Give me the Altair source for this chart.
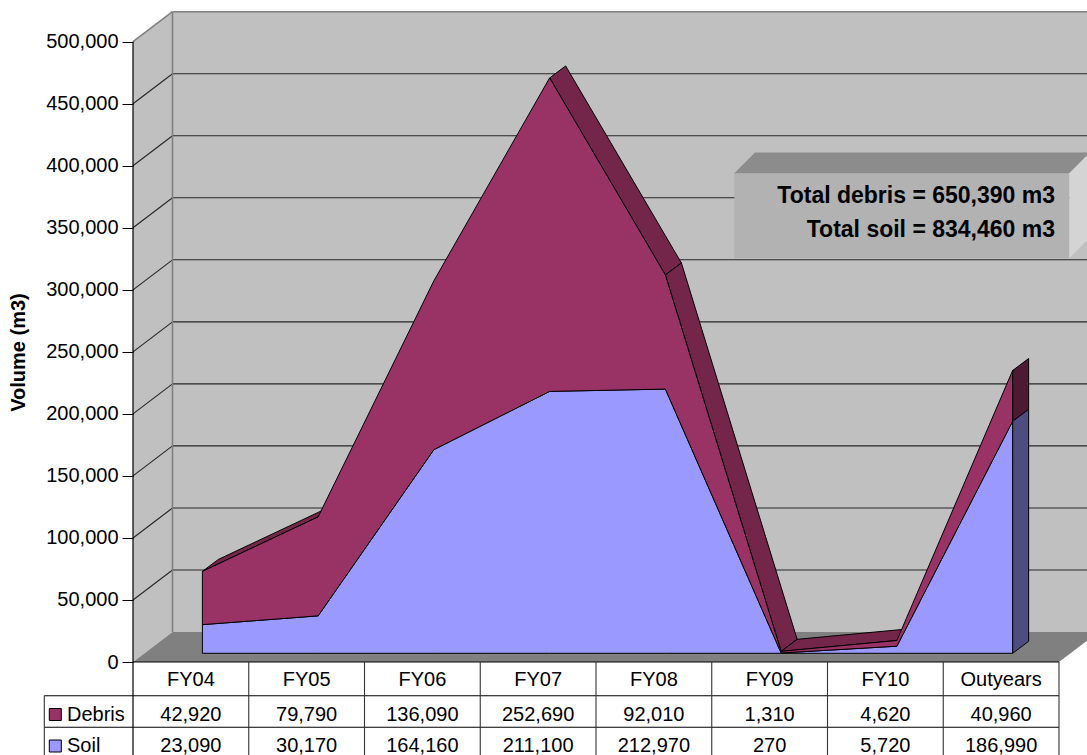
import altair as alt
import pandas as pd

# ---------------- data ----------------
categories = ["FY04", "FY05", "FY06", "FY07", "FY08", "FY09", "FY10", "Outyears"]
debris = [42920, 79790, 136090, 252690, 92010, 1310, 4620, 40960]
soil = [23090, 30170, 164160, 211100, 212970, 270, 5720, 186990]
series_names = ["Debris", "Soil"]
y_ticks = [0, 50000, 100000, 150000, 200000, 250000, 300000, 350000, 400000, 450000, 500000]
totals_text = ["Total debris = 650,390 m3", "Total soil = 834,460 m3"]
axis_title = "Volume (m3)"

# ---------------- layout (pixels) ----------------
FULL_W, FULL_H = 1087, 755
LEFT = 133                  # pixel column of the front-left axis edge
PLOT_W = FULL_W - LEFT
COL_PX = 115.75             # width of one category column
ZERO_PX = 662               # pixel row of volume 0 on the front plane
Y_MAX = 500000
PX_PER_UNIT = 620.3 / Y_MAX

FONT = "Liberation Sans"
DEBRIS_FRONT, DEBRIS_TOP, DEBRIS_END = "#993366", "#732649", "#4d1a33"
SOIL_FRONT, SOIL_END = "#9999ff", "#4d4d80"
WALL, FLOOR, EDGE, GRID = "#c0c0c0", "#808080", "#808080", "#262626"


def ddx(px):
    return px / COL_PX


def ddy(px):
    return px / PX_PER_UNIT


def at_x(px):
    return (px - LEFT) / COL_PX


def at_y(py):
    return (ZERO_PX - py) / PX_PER_UNIT


WALL_DX, WALL_DY = ddx(39.5), ddy(30)       # depth of the walls / floor
FRONT_DX, FRONT_DY = ddx(11.5), ddy(8.7)    # front plane of the series
DEPTH_DX, DEPTH_DY = ddx(16), ddy(12)       # thickness of the series

N = len(categories)
XS = alt.Scale(domain=[0, PLOT_W / COL_PX], nice=False, zero=False)
YS = alt.Scale(domain=[at_y(FULL_H), at_y(0)], nice=False, zero=False)

# one shared value axis, declared identically on every layer
VALUE_AXIS = alt.Axis(
    values=y_ticks, format=",d", grid=False, domain=False,
    ticks=True, tickSize=11, tickColor="black", tickWidth=1,
    labelFont=FONT, labelFontSize=20, labelColor="black", labelPadding=4,
    labelOverlap=False, labelFlush=False, orient="left",
    title=axis_title, titleFont=FONT, titleFontSize=20, titleFontWeight="bold",
    titleColor="black", titleAngle=270, titleX=-115, titleY=352,
    titleAlign="center", titleBaseline="middle", zindex=1,
)


def X(f="x"):
    return alt.X(f"{f}:Q", scale=XS, axis=None)


def Y(f="y"):
    return alt.Y(f"{f}:Q", scale=YS, axis=VALUE_AXIS, stack=False)


def envelope(poly):
    """Upper/lower outline of a convex polygon at each vertex x."""
    xs = sorted(set(round(p[0], 9) for p in poly))
    out = []
    n = len(poly)
    for x in xs:
        ys = []
        for i in range(n):
            (x1, y1), (x2, y2) = poly[i], poly[(i + 1) % n]
            lo, hi = min(x1, x2), max(x1, x2)
            if hi - lo < 1e-9:
                if abs(x - x1) < 1e-6:
                    ys += [y1, y2]
            elif lo - 1e-9 <= x <= hi + 1e-9:
                t = (x - x1) / (x2 - x1)
                ys.append(y1 + t * (y2 - y1))
        out.append((x, max(ys), min(ys)))
    return out


def polygons_df(polys):
    rows = []
    for pid, (fill, poly) in enumerate(polys):
        for x, top, bot in envelope(poly):
            rows.append({"id": pid, "x": x, "y": top, "y2": bot, "fill": fill})
    return pd.DataFrame(rows)


def poly_layer(polys, **mark):
    return alt.Chart(polygons_df(polys)).mark_area(orient="vertical", **mark).encode(
        x=X(), y=Y(), y2=alt.Y2("y2:Q"),
        fill=alt.Fill("fill:N", scale=None), detail="id:N",
    )


def rules_layer(segs, color, width=1.0):
    df = pd.DataFrame(segs, columns=["x", "y", "x2", "y2"])
    return alt.Chart(df).mark_rule(color=color, strokeWidth=width).encode(
        x=X(), y=Y(), x2=alt.X2("x2:Q"), y2=alt.Y2("y2:Q")
    )


# ---------------- walls and floor ----------------
TOP = Y_MAX
walls = poly_layer([
    (WALL, [(0, 0), (0, TOP), (WALL_DX, TOP + WALL_DY), (WALL_DX, WALL_DY)]),
    (WALL, [(WALL_DX, WALL_DY), (WALL_DX, TOP + WALL_DY),
            (N + WALL_DX, TOP + WALL_DY), (N + WALL_DX, WALL_DY)]),
    (FLOOR, [(0, 0), (N, 0), (N + WALL_DX, WALL_DY), (WALL_DX, WALL_DY)]),
])

grid_segs = []
for v in y_ticks[1:-1]:
    grid_segs.append((0, v, WALL_DX, v + WALL_DY))
    grid_segs.append((WALL_DX, v + WALL_DY, N + WALL_DX, v + WALL_DY))
gridlines = rules_layer(grid_segs, GRID, 1.1)

wall_edges = rules_layer([
    (0, TOP, WALL_DX, TOP + WALL_DY),
    (WALL_DX, TOP + WALL_DY, N + WALL_DX, TOP + WALL_DY),
    (WALL_DX, WALL_DY, WALL_DX, TOP + WALL_DY),
], EDGE, 1.6)

# ---------------- 3-D stacked area ----------------
xs_front = [i + 0.5 + FRONT_DX for i in range(N)]
base = FRONT_DY
soil_top = [base + s for s in soil]
total_top = [base + s + d for s, d in zip(soil, debris)]

front_df = pd.DataFrame({
    "x": xs_front + xs_front,
    "y": soil_top + total_top,
    "y2": [base] * N + soil_top,
    "fill": [SOIL_FRONT] * N + [DEBRIS_FRONT] * N,
    "series": ["Soil"] * N + ["Debris"] * N,
})
front_faces = alt.Chart(front_df).mark_area(
    orient="vertical", stroke="black", strokeWidth=1, strokeJoin="round"
).encode(
    x=X(), y=Y(), y2=alt.Y2("y2:Q"),
    fill=alt.Fill("fill:N", scale=None), detail="series:N",
)

depth_polys = []
slope_limit = DEPTH_DY / DEPTH_DX
for i in range(N - 1):
    px_, py_ = xs_front[i], total_top[i]
    qx_, qy_ = xs_front[i + 1], total_top[i + 1]
    if (qy_ - py_) / (qx_ - px_) < slope_limit:   # upper face turned towards the viewer
        depth_polys.append((DEBRIS_TOP, [
            (px_, py_), (qx_, qy_),
            (qx_ + DEPTH_DX, qy_ + DEPTH_DY), (px_ + DEPTH_DX, py_ + DEPTH_DY),
        ]))
xe = xs_front[-1]
depth_polys.append((DEBRIS_END, [
    (xe, soil_top[-1]), (xe, total_top[-1]),
    (xe + DEPTH_DX, total_top[-1] + DEPTH_DY), (xe + DEPTH_DX, soil_top[-1] + DEPTH_DY),
]))
depth_polys.append((SOIL_END, [
    (xe, base), (xe, soil_top[-1]),
    (xe + DEPTH_DX, soil_top[-1] + DEPTH_DY), (xe + DEPTH_DX, base + DEPTH_DY),
]))
depth_faces = poly_layer(depth_polys, stroke="black", strokeWidth=1, strokeJoin="round")

# ---------------- totals box ----------------
bx1, bx2, by1, by2 = at_x(734.3), at_x(1069.3), at_y(173.3), at_y(258.3)
bdx, bdy = ddx(20.7), ddy(20.7)
box = poly_layer([
    ("#b2b2b2", [(bx1, by2), (bx1, by1), (bx2, by1), (bx2, by2)]),
    ("#8c8c8c", [(bx1, by1), (bx2, by1), (bx2 + bdx, by1 + bdy), (bx1 + bdx, by1 + bdy)]),
    ("#d4d4d4", [(bx2, by2), (bx2, by1), (bx2 + bdx, by1 + bdy), (bx2 + bdx, by2 + bdy)]),
])
box_text = alt.Chart(pd.DataFrame({
    "x": [at_x(1055)] * 2,
    "y": [at_y(203.3), at_y(236.7)],
    "t": totals_text,
})).mark_text(
    font=FONT, fontSize=23, fontWeight="bold", align="right", baseline="alphabetic", color="black"
).encode(x=X(), y=Y(), text="t:N")

# ---------------- axis line (front-left edge, continued down the table) ----------------
axis_line = rules_layer([(0, at_y(FULL_H), 0, TOP)], "black", 1.2)

# ---------------- data table ----------------
row_lines = [at_y(695.7), at_y(727.3)]
legend_left = at_x(44.3)
table_h = rules_layer(
    [(0, 0, N, 0)] + [(legend_left, r, N, r) for r in row_lines], "black", 1.1
)
table_v = rules_layer(
    [(i, 0, i, at_y(FULL_H)) for i in range(1, N + 1)]
    + [(legend_left, row_lines[0], legend_left, at_y(FULL_H))], "#333333", 1.1
)

cells = []
for i, c in enumerate(categories):
    cells.append({"x": i + 0.5, "y": at_y(686), "t": c})
    cells.append({"x": i + 0.5, "y": at_y(721), "t": f"{debris[i]:,}"})
    cells.append({"x": i + 0.5, "y": at_y(751.7), "t": f"{soil[i]:,}"})
table_text = alt.Chart(pd.DataFrame(cells)).mark_text(
    font=FONT, fontSize=20, align="center", baseline="alphabetic", color="black"
).encode(x=X(), y=Y(), text="t:N")

legend_text = alt.Chart(pd.DataFrame({
    "x": [at_x(67)] * 2, "y": [at_y(721), at_y(751.7)], "t": series_names,
})).mark_text(
    font=FONT, fontSize=20, align="left", baseline="alphabetic", color="black"
).encode(x=X(), y=Y(), text="t:N")

legend_keys = alt.Chart(pd.DataFrame({
    "x": [at_x(49.3)] * 2, "x2": [at_x(61.3)] * 2,
    "y": [at_y(708.5), at_y(740)], "y2": [at_y(720.5), at_y(752)],
    "fill": [DEBRIS_FRONT, SOIL_FRONT],
})).mark_rect(stroke="black", strokeWidth=1).encode(
    x=X(), x2=alt.X2("x2:Q"), y=Y(), y2=alt.Y2("y2:Q"),
    fill=alt.Fill("fill:N", scale=None),
)

chart = alt.layer(
    walls, gridlines, wall_edges, depth_faces, front_faces,
    box, box_text, table_h, table_v, axis_line,
    table_text, legend_keys, legend_text,
).properties(
    width=PLOT_W, height=FULL_H,
    autosize=alt.AutoSizeParams(type="none"),
    padding={"left": LEFT, "top": 0, "right": 0, "bottom": 0},
    background="white",
).configure_view(stroke=None)

chart.save("out.html", embed_options={"renderer": "svg", "actions": False})
